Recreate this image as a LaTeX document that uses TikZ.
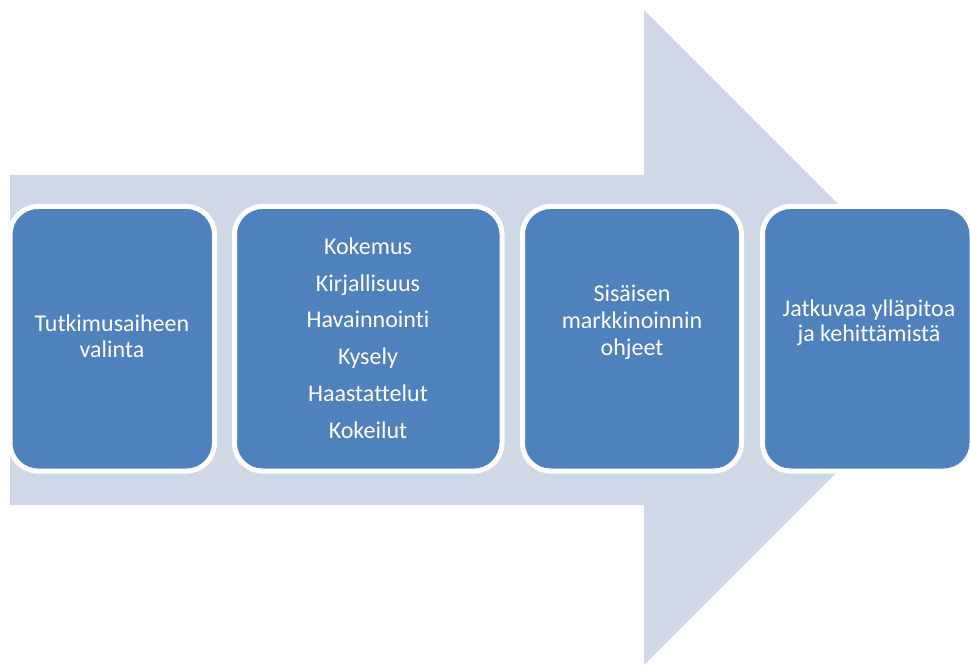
\documentclass[tikz,border=0pt]{standalone}
\usepackage{fontspec}
\setmainfont{Carlito}[Ligatures=NoCommon]
\definecolor{arrowfill}{HTML}{D0D8E8}
\definecolor{stepfill}{HTML}{4F81BD}
\begin{document}
\begin{tikzpicture}[x=1pt,y=-1pt,
  stagebox/.style={draw=white, line width=5pt, fill=stepfill, rounded corners=28pt,
    inner sep=0pt, minimum height=264.5pt},
  stagetext/.style={anchor=base, text=white, inner sep=0pt, font=\fontsize{24}{28}\selectfont}]
\useasboundingbox (0,0) rectangle (970,666);
\clip (0,0) rectangle (970,666);
% broad background arrow
\fill[arrowfill] (10,175) -- (644,175) -- (644,10) -- (971.5,337.5)
  -- (644,665) -- (644,505) -- (10,505) -- cycle;
% the four stages
\node[stagebox, minimum width=204.5pt] (s1) at (112.25,338.75) {};
\node[stagebox, minimum width=267.5pt] (s2) at (368.25,338.75) {};
\node[stagebox, minimum width=219pt]   (s3) at (632,338.75) {};
\node[stagebox, minimum width=209.5pt] (s4) at (867.25,338.75) {};
% stage 1
\node[stagetext] (t1a) at (112,331.7) {Tutkimusaiheen};
\node[stagetext] (t1b) at (112,357.5) {valinta};
% stage 2
\foreach \txt [count=\i] in {Kokemus,Kirjallisuus,Havainnointi,Kysely,Haastattelut,Kokeilut}
  \node[stagetext] (t2\i) at (368,{254.3+36.8*(\i-1)}) {\txt};
% stage 3
\node[stagetext] (t3a) at (632,301.7) {Sisäisen};
\node[stagetext] (t3b) at (632,328.3) {markkinoinnin};
\node[stagetext] (t3c) at (632,355) {ohjeet};
% stage 4
\node[stagetext] (t4a) at (869,316) {Jatkuvaa ylläpitoa};
\node[stagetext] (t4b) at (869,341.7) {ja kehittämistä};
\end{tikzpicture}
\end{document}
